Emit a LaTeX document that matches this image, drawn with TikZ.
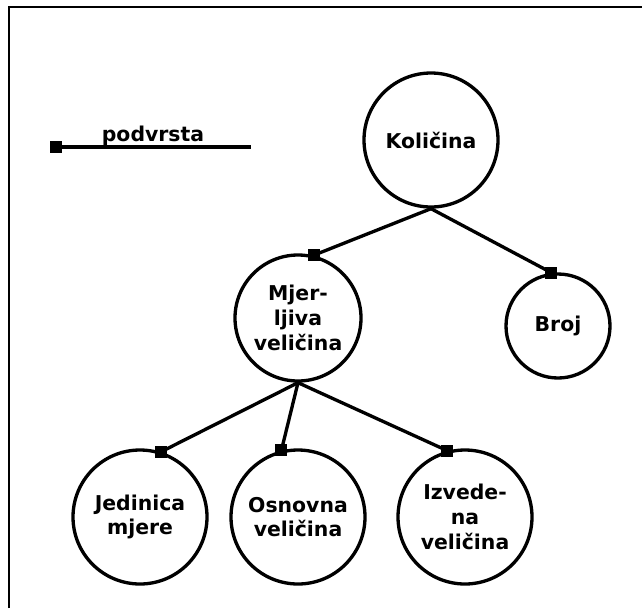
\documentclass[tikz,border=0pt]{standalone}
\usepackage{fontspec}
\setmainfont{DejaVu Sans}
\begin{document}
\begin{tikzpicture}[x=0.75pt,y=-0.75pt,
  concept/.style={circle,draw=black,line width=2.5pt,fill=white,inner sep=0pt,
    align=center,font=\bfseries\fontsize{15.3}{18.6}\selectfont},
  link/.style={line width=2.5pt},
  sq/.style={rectangle,fill=black,inner sep=0pt,minimum size=9pt},
  lbl/.style={font=\bfseries\fontsize{15.3}{18.6}\selectfont,inner sep=0pt}]
\useasboundingbox (0,0) rectangle (642,608);
\fill[white] (0,0) rectangle (642,608);
% frame (clipped at right and bottom)
\coordinate (fa) at (9,608);
\coordinate (fb) at (9,7);
\coordinate (fc) at (642,7);
\draw[line width=1.6pt] (fa) -- (fb) -- (fc);
% legend
\node[sq] (lsq) at (56,147) {};
\coordinate (lend) at (251,147);
\draw[link] (lsq.center) -- (lend);
\node[lbl] (ltxt) at (153,136) {podvrsta};
% concepts
\node[concept,minimum size=100.5pt] (K) at (431,140) {Količina};
\node[concept,minimum size=94.5pt] (M) at (298,318) {Mjer-\\ljiva\\veličina};
\node[concept,minimum size=78pt] (B) at (558,326) {Broj};
\node[concept,minimum size=100.5pt] (J) at (140,517) {Jedinica\\mjere};
\node[concept,minimum size=100.5pt] (O) at (298,517) {Osnovna\\veličina};
\node[concept,minimum size=100.5pt] (I) at (465,517) {Izvede-\\na\\veličina};
% squares on the circles
\node[sq] (sM) at (M.76) {};
\node[sq] (sB) at (B.97) {};
\node[sq] (sJ) at (J.72) {};
\node[sq] (sO) at (O.104) {};
\node[sq] (sI) at (I.105) {};
% connectors
\draw[link] (K.south) -- (sM.center);
\draw[link] (K.south) -- (sB.center);
\draw[link] (M.south) -- (sJ.center);
\draw[link] (M.south) -- (sO.center);
\draw[link] (M.south) -- (sI.center);
\end{tikzpicture}
\end{document}
